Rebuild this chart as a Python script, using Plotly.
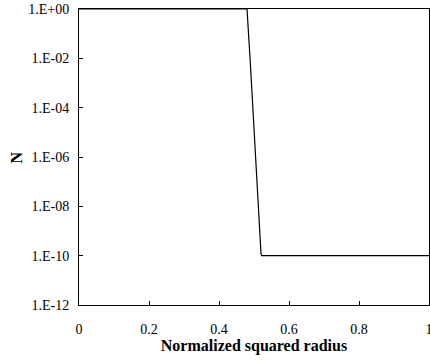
import plotly.graph_objects as go

x_vals = [0.0, 0.48, 0.49, 0.50, 0.51, 0.515, 0.518, 0.520, 0.522, 0.6, 0.8, 1.0]
n_vals = [1.0, 1.0, 5e-3, 1e-5, 2e-8, 1e-9, 2.5e-10, 1.2e-10, 1e-10, 1e-10, 1e-10, 1e-10]

y_tickvals = [1e0, 1e-2, 1e-4, 1e-6, 1e-8, 1e-10, 1e-12]
y_ticktext = ["1.E+00", "1.E-02", "1.E-04", "1.E-06", "1.E-08", "1.E-10", "1.E-12"]
x_tickvals = [0, 0.2, 0.4, 0.6, 0.8, 1]
x_ticktext = ["0", "0.2", "0.4", "0.6", "0.8", "1"]

font = "Liberation Serif"

fig = go.Figure()
fig.add_trace(go.Scatter(x=x_vals, y=n_vals, mode="lines",
                         line=dict(color="black", width=1.2), showlegend=False))

fig.update_layout(
    width=430, height=360,
    margin=dict(l=79, r=1, t=9, b=55, autoexpand=False),
    paper_bgcolor="white", plot_bgcolor="white",
    font=dict(family=font, size=14, color="black"),
)
fig.update_xaxes(
    range=[0, 1], tickvals=x_tickvals, ticktext=x_ticktext,
    ticks="inside", ticklen=4, tickcolor="black",
    showline=True, linecolor="black", linewidth=1, mirror=True,
    showgrid=False, zeroline=False, automargin=False,
    ticklabelstandoff=11, ticklabeloverflow="allow",
    title=dict(text="<b>Normalized squared radius</b>", font=dict(size=16, family=font), standoff=0),
)
fig.update_yaxes(
    type="log", range=[-12, 0], tickvals=y_tickvals, ticktext=y_ticktext,
    ticks="inside", ticklen=4, tickcolor="black",
    showline=True, linecolor="black", linewidth=1, mirror=True,
    showgrid=False, zeroline=False, automargin=False,
    ticklabelstandoff=6, ticklabeloverflow="allow",
)
fig.add_annotation(text="<b>N</b>", xref="paper", yref="paper",
                   x=-63.5 / 350, y=0.5, xanchor="center", yanchor="middle", textangle=-90,
                   showarrow=False, font=dict(size=16, family=font))

fig.write_html("out.html")
